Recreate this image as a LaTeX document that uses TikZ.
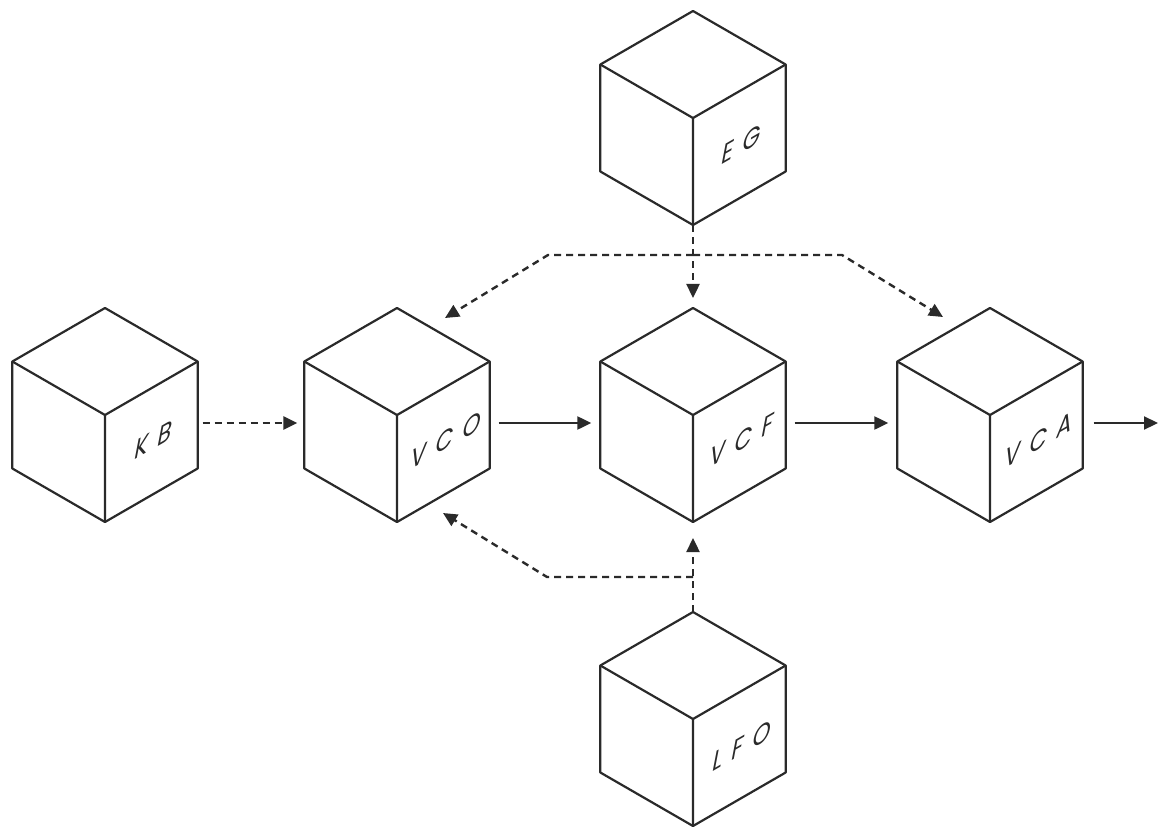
\documentclass[tikz,border=0pt]{standalone}
\usepackage{fontspec}
\newfontfamily\labfont[FakeSlant=0.25,LetterSpace=16]{Poppins}
\usetikzlibrary{shapes.geometric,arrows.meta}
\definecolor{ink}{HTML}{2A2A2A}
\begin{document}
\begin{tikzpicture}[x=0.5pt,y=-0.5pt,
  cube/.style={regular polygon, regular polygon sides=6, shape border rotate=30,
    minimum size=107pt, inner sep=0pt, outer sep=0pt, draw=ink, line width=1.1pt, line join=round},
  edge/.style={draw=ink, line width=1.1pt, line join=round},
  lab/.style={font=\labfont\fontsize{13}{15}\selectfont, text=ink, inner sep=0pt,
    cm={0.866,0.5,0,1,(0,0)}},
  tip/.style={-{Triangle[length=7pt,width=6.5pt]}},
  solidarrow/.style={draw=ink, line width=1.1pt, tip},
  dasharrow/.style={draw=ink, line width=1.2pt, dash pattern=on 3.5pt off 2.5pt, tip}]
\useasboundingbox (0,0) rectangle (1162,829);
% cubes
\node[cube] (kb)  at (105,415) {};
\node[cube] (vco) at (397,415) {};
\node[cube] (vcf) at (693,415) {};
\node[cube] (vca) at (990,415) {};
\node[cube] (eg)  at (693,118) {};
\node[cube] (lfo) at (693,719) {};
\foreach \c in {kb,vco,vcf,vca,eg,lfo}{
  \draw[edge] (\c.150) -- (\c.center) -- (\c.30) (\c.center) -- (\c.270);
}
% labels
\node[lab] (kblab)  at ([shift={(47,26)}]kb.center) {K B};
\node[lab] (vcolab) at ([shift={(47,26)}]vco.center) {V C O};
\node[lab] (vcflab) at ([shift={(47,26)}]vcf.center) {V C F};
\node[lab] (vcalab) at ([shift={(47,26)}]vca.center) {V C A};
\node[lab] (eglab)  at ([shift={(47,27)}]eg.center) {E G};
\node[lab] (lfolab) at ([shift={(47,28)}]lfo.center) {L F O};
% main chain
\draw[dasharrow] ([shift={(5,8)}]kb.0) -- ([shift={(-7,8)}]vco.180);
\draw[solidarrow] ([shift={(9,8)}]vco.0) -- ([shift={(-9,8)}]vcf.180);
\draw[solidarrow] ([shift={(9,8)}]vcf.0) -- ([shift={(-9,8)}]vca.180);
\coordinate (out) at (1158,423);
\draw[solidarrow] ([shift={(11,8)}]vca.0) -- (out);
% EG distribution
\coordinate (tj) at (693,255);
\coordinate (tl) at (548,255);
\coordinate (tr) at (842,255);
\draw[dasharrow] (eg.270) -- ([yshift=5pt]vcf.90);
\draw[dasharrow] (tj) -- (tl) -- ([shift={(48,-97)}]vco.center);
\draw[dasharrow] (tj) -- (tr) -- ([shift={(-47,-98)}]vca.center);
% LFO distribution
\coordinate (bj) at (693,577);
\coordinate (bl) at (547,577);
\draw[dasharrow] (lfo.90) -- ([yshift=-8pt]vcf.270);
\draw[dasharrow] (bj) -- (bl) -- ([shift={(46,98)}]vco.center);
\end{tikzpicture}
\end{document}
